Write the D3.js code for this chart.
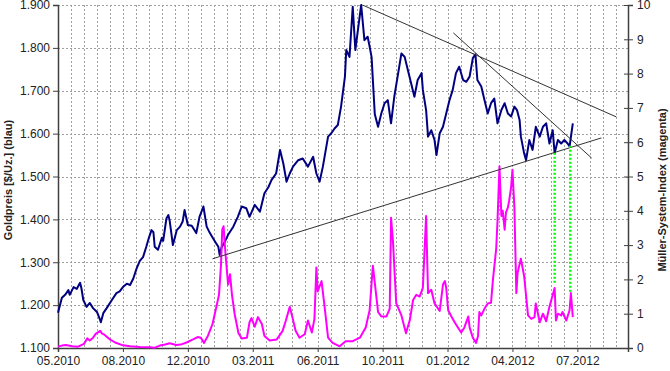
<!DOCTYPE html>
<html>
<head>
<meta charset="utf-8">
<script src="https://cdn.jsdelivr.net/npm/d3@7"></script>
<style>
body { margin: 0; background: #fff; }
text { font-family: Arial, "Liberation Sans", sans-serif; }
</style>
</head>
<body>
<svg id="chart" width="670" height="371"></svg>
<script>
// gold price ($/oz)
var goldDates = ["2010-05-20","2010-05-26","2010-05-31","2010-06-05","2010-06-07","2010-06-13","2010-06-18","2010-06-23","2010-06-25","2010-06-28",
  "2010-07-03","2010-07-08","2010-07-13","2010-07-19","2010-07-24","2010-07-25","2010-07-29","2010-08-03","2010-08-11","2010-08-18",
  "2010-08-23","2010-08-28","2010-09-03","2010-09-08","2010-09-13","2010-09-18","2010-09-23","2010-09-28","2010-10-03","2010-10-07",
  "2010-10-11","2010-10-14","2010-10-16","2010-10-21","2010-10-27","2010-10-29","2010-11-03","2010-11-06","2010-11-08","2010-11-13",
  "2010-11-19","2010-11-24","2010-11-28","2010-12-01","2010-12-06","2010-12-12","2010-12-19","2010-12-24","2010-12-30","2011-01-04",
  "2011-01-09","2011-01-17","2011-01-22","2011-01-24","2011-01-27","2011-02-01","2011-02-06","2011-02-14","2011-02-21","2011-02-27",
  "2011-03-06","2011-03-11","2011-03-19","2011-03-27","2011-04-03","2011-04-09","2011-04-14","2011-04-21","2011-04-27","2011-05-02",
  "2011-05-07","2011-05-12","2011-05-17","2011-05-25","2011-06-01","2011-06-09","2011-06-17","2011-06-22","2011-06-27","2011-07-02",
  "2011-07-10","2011-07-15","2011-07-20","2011-07-25","2011-07-30","2011-08-05","2011-08-07","2011-08-12","2011-08-17","2011-08-21",
  "2011-08-25","2011-08-30","2011-09-04","2011-09-09","2011-09-12","2011-09-15","2011-09-20","2011-09-25","2011-09-30","2011-10-05",
  "2011-10-10","2011-10-15","2011-10-20","2011-10-26","2011-10-31","2011-11-05","2011-11-10","2011-11-15","2011-11-20","2011-11-25",
  "2011-12-01","2011-12-03","2011-12-08","2011-12-11","2011-12-16","2011-12-21","2011-12-24","2011-12-29","2012-01-03","2012-01-08",
  "2012-01-13","2012-01-18","2012-01-23","2012-01-28","2012-02-03","2012-02-08","2012-02-13","2012-02-18","2012-02-22","2012-02-25",
  "2012-03-02","2012-03-07","2012-03-12","2012-03-17","2012-03-22","2012-03-27","2012-04-02","2012-04-07","2012-04-12","2012-04-17",
  "2012-04-22","2012-04-26","2012-04-30","2012-05-02","2012-05-07","2012-05-10","2012-05-15","2012-05-20","2012-05-25","2012-05-31",
  "2012-06-05","2012-06-10","2012-06-15","2012-06-20","2012-06-23","2012-06-28","2012-07-03","2012-07-08","2012-07-13","2012-07-16",
  "2012-07-21"];
var goldValues = [1182,1217,1224,1235,1224,1242,1238,1252,1240,1212,
  1196,1205,1193,1184,1165,1160,1182,1193,1212,1228,
  1232,1242,1250,1247,1262,1285,1303,1312,1336,1357,
  1375,1370,1336,1329,1357,1350,1402,1410,1397,1340,
  1375,1383,1395,1422,1387,1385,1368,1406,1430,1383,
  1368,1348,1336,1317,1335,1348,1364,1383,1406,1430,
  1426,1406,1434,1418,1461,1475,1492,1507,1562,1531,
  1488,1507,1523,1538,1542,1523,1546,1507,1488,1523,
  1593,1601,1612,1620,1663,1733,1795,1779,1896,1795,
  1842,1900,1818,1826,1803,1779,1645,1616,1647,1671,
  1678,1624,1686,1741,1787,1779,1748,1717,1686,1725,
  1741,1702,1655,1593,1608,1585,1550,1601,1616,1647,
  1678,1702,1741,1756,1725,1721,1733,1776,1785,1725,
  1710,1678,1647,1671,1682,1624,1655,1671,1647,1640,
  1663,1655,1632,1593,1554,1538,1585,1562,1616,1593,
  1616,1624,1577,1608,1554,1585,1577,1585,1577,1570,
  1624];

// Müller-System-Index
var msiDates = ["2010-05-20","2010-05-26","2010-06-01","2010-06-11","2010-06-20","2010-06-29","2010-07-04","2010-07-08","2010-07-13","2010-07-17",
  "2010-07-24","2010-07-27","2010-07-31","2010-08-08","2010-08-16","2010-08-26","2010-09-08","2010-09-23","2010-10-09","2010-10-16",
  "2010-10-24","2010-11-01","2010-11-08","2010-11-18","2010-11-25","2010-12-04","2010-12-14","2010-12-21","2010-12-26","2010-12-31",
  "2011-01-06","2011-01-13","2011-01-19","2011-01-23","2011-01-26","2011-01-28","2011-01-30","2011-02-02","2011-02-04","2011-02-06",
  "2011-02-09","2011-02-12","2011-02-16","2011-02-22","2011-02-27","2011-03-07","2011-03-11","2011-03-14","2011-03-19","2011-03-24",
  "2011-03-30","2011-04-03","2011-04-11","2011-04-22","2011-05-01","2011-05-06","2011-05-12","2011-05-16","2011-05-21","2011-05-27",
  "2011-06-04","2011-06-09","2011-06-15","2011-06-19","2011-06-22","2011-06-24","2011-06-30","2011-07-05","2011-07-10","2011-07-17",
  "2011-07-28","2011-08-06","2011-08-17","2011-08-28","2011-09-06","2011-09-12","2011-09-17","2011-09-20","2011-09-25","2011-09-30",
  "2011-10-08","2011-10-13","2011-10-15","2011-10-18","2011-10-23","2011-10-31","2011-11-07","2011-11-13","2011-11-18","2011-11-23",
  "2011-11-28","2011-12-03","2011-12-08","2011-12-11","2011-12-16","2011-12-21","2011-12-29","2012-01-03","2012-01-06","2012-01-08",
  "2012-01-11","2012-01-16","2012-01-21","2012-01-26","2012-01-31","2012-02-05","2012-02-11","2012-02-13","2012-02-18","2012-02-23",
  "2012-02-26","2012-02-28","2012-03-02","2012-03-07","2012-03-12","2012-03-17","2012-03-20","2012-03-25","2012-03-27","2012-03-30",
  "2012-04-02","2012-04-04","2012-04-07","2012-04-09","2012-04-12","2012-04-14","2012-04-17","2012-04-19","2012-04-22","2012-04-25",
  "2012-04-27","2012-05-02","2012-05-07","2012-05-13","2012-05-18","2012-05-23","2012-05-25","2012-05-31","2012-06-05","2012-06-10",
  "2012-06-15","2012-06-23","2012-06-25","2012-06-28","2012-07-03","2012-07-05","2012-07-11","2012-07-16","2012-07-18","2012-07-21"];
var msiValues = [0.04,0.07,0.09,0.05,0.04,0.12,0.28,0.22,0.3,0.41,
  0.5,0.42,0.38,0.25,0.16,0.09,0.05,0.03,0.02,0.01,
  0.07,0.1,0.14,0.09,0.1,0.16,0.25,0.32,0.3,0.15,
  0.36,0.7,1.2,1.55,2.4,3.45,3.55,2.75,2.3,1.85,
  2.15,1.55,1.0,0.43,0.28,0.3,0.75,0.87,0.62,0.9,
  0.7,0.35,0.22,0.25,0.5,0.8,1.2,0.9,0.5,0.3,
  0.4,0.8,0.45,0.85,2.35,1.65,1.95,1.15,0.3,0.15,
  0.05,0.2,0.2,0.3,0.6,1.1,2.4,1.9,1.05,0.92,
  0.92,1.15,3.8,3.1,1.3,0.95,0.43,0.82,1.4,1.55,
  1.5,1.75,3.85,1.6,1.7,1.3,1.08,1.85,1.95,1.75,
  1.1,0.92,0.75,0.6,0.45,0.6,0.92,0.6,0.3,0.15,
  0.35,1.05,0.95,1.15,1.3,1.32,2.0,2.9,3.7,5.3,
  3.85,4.0,3.45,3.95,4.1,4.3,4.7,5.2,4.1,1.6,
  2.2,2.6,2.1,0.95,0.85,0.9,1.3,0.75,1.0,0.78,
  1.2,1.75,0.8,1.0,0.95,1.05,0.8,1.1,1.6,0.9];

// trend lines on the gold price
var trendStartDates = ["2011-09-01","2012-01-19","2011-01-13"];
var trendStartValues = [1900,1835,1308];
var trendEndDates = ["2012-09-26","2012-08-19","2012-09-03"];
var trendEndValues = [1639,1543,1590];

// green signal markers
var signalDates = ["2012-06-23","2012-07-17"];
var signalMsi = [1.9,1.64];
var signalGold = [1555,1573];

var xTickDates = ["2010-05-20","2010-08-28","2010-12-06","2011-03-16","2011-06-24","2011-10-02","2012-01-10","2012-04-19","2012-07-28"];
var goldTicks = [1100,1200,1300,1400,1500,1600,1700,1800,1900];
var msiTicks = [0,1,2,3,4,5,6,7,8,9,10];

var parse = d3.timeParse("%Y-%m-%d");
var svg = d3.select("#chart");
var plotLeft = 58, plotRight = 628, plotTop = 5, plotBottom = 348;

var x = d3.scaleTime()
  .domain([parse("2010-05-20"), parse("2012-10-14")])
  .range([plotLeft, plotRight]);
var yGold = d3.scaleLinear().domain([1100, 1900]).range([plotBottom, plotTop]);
var yMsi = d3.scaleLinear().domain([0, 10]).range([plotBottom, plotTop]);

var de = d3.formatLocale({decimal: ",", thousands: ".", grouping: [3], currency: ["", ""]});
var fmtGold = de.format(",.0f");
var fmtDate = d3.timeFormat("%m.%Y");

// grid
var grid = svg.append("g");
grid.selectAll(".hg").data(goldTicks.slice(1)).enter().append("line")
  .attr("x1", plotLeft).attr("x2", plotRight)
  .attr("y1", function(d) { return Math.round(yGold(d)) + 0.5; })
  .attr("y2", function(d) { return Math.round(yGold(d)) + 0.5; })
  .attr("stroke", "#a0a0a0").attr("stroke-dasharray", "2,2");
var vgrid = d3.range(1, 44).map(function(k) { return d3.timeDay.offset(parse("2010-05-20"), k * 20); });
grid.selectAll(".vg").data(vgrid).enter().append("line")
  .attr("x1", function(d) { return Math.round(x(d)) + 0.5; })
  .attr("x2", function(d) { return Math.round(x(d)) + 0.5; })
  .attr("y1", plotTop).attr("y2", plotBottom)
  .attr("stroke", "#a0a0a0").attr("stroke-dasharray", "2,2");

// axes
var axisColor = "#404040";
var gl = svg.append("g").attr("transform", "translate(" + plotLeft + ",0)")
  .call(d3.axisLeft(yGold).tickValues(goldTicks).tickFormat(fmtGold).tickSize(5).tickPadding(3));
var gr = svg.append("g").attr("transform", "translate(" + plotRight + ",0)")
  .call(d3.axisRight(yMsi).tickValues(msiTicks).tickSize(5).tickPadding(4));
gr.selectAll(".tick line").attr("x1", -4);
var gb = svg.append("g").attr("transform", "translate(0," + plotBottom + ")")
  .call(d3.axisBottom(x).tickValues(xTickDates.map(parse)).tickFormat(fmtDate).tickSize(4).tickPadding(4));
[gl, gr, gb].forEach(function(g) {
  g.select(".domain").attr("stroke", axisColor).attr("stroke-width", 1.5);
  g.selectAll(".tick line").attr("stroke", axisColor);
  g.selectAll(".tick text").attr("font-size", 12).attr("fill", "#222")
    .attr("font-family", "Arial, 'Liberation Sans', sans-serif");
});

// series
var goldLine = d3.line()
  .x(function(d, i) { return x(parse(goldDates[i])); })
  .y(function(d) { return yGold(d); });
svg.append("path").datum(goldValues)
  .attr("d", goldLine).attr("fill", "none")
  .attr("stroke", "#000080").attr("stroke-width", 2).attr("stroke-linejoin", "round");

var msiLine = d3.line()
  .x(function(d, i) { return x(parse(msiDates[i])); })
  .y(function(d) { return yMsi(d); });
svg.append("path").datum(msiValues)
  .attr("d", msiLine).attr("fill", "none")
  .attr("stroke", "#ff00ff").attr("stroke-width", 2).attr("stroke-linejoin", "round");

// trend lines
svg.selectAll(".trend").data(trendStartDates).enter().append("line")
  .attr("x1", function(d) { return x(parse(d)); })
  .attr("y1", function(d, i) { return yGold(trendStartValues[i]); })
  .attr("x2", function(d, i) { return x(parse(trendEndDates[i])); })
  .attr("y2", function(d, i) { return yGold(trendEndValues[i]); })
  .attr("stroke", "#333").attr("stroke-width", 1);

// signals
svg.selectAll(".signal").data(signalDates).enter().append("line")
  .attr("x1", function(d) { return x(parse(d)); })
  .attr("x2", function(d) { return x(parse(d)); })
  .attr("y1", function(d, i) { return yMsi(signalMsi[i]); })
  .attr("y2", function(d, i) { return yGold(signalGold[i]); })
  .attr("stroke", "#00ff00").attr("stroke-width", 2.5).attr("stroke-dasharray", "2,2");

// axis titles
svg.append("text")
  .attr("transform", "translate(12,180) rotate(-90)")
  .attr("text-anchor", "middle").attr("font-size", 11).attr("font-weight", "bold").attr("fill", "#222")
  .text("Goldpreis [$/Uz.] (blau)");
svg.append("text")
  .attr("transform", "translate(666,190) rotate(-90)")
  .attr("text-anchor", "middle").attr("font-size", 11).attr("font-weight", "bold").attr("fill", "#222")
  .text("Müller-System-Index (magenta)");
</script>
</body>
</html>
